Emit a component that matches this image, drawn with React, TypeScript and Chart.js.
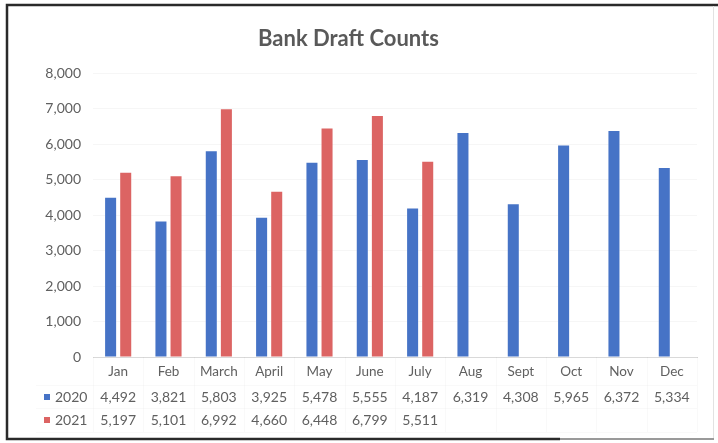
import React, { useEffect, useRef } from "react";
import { Chart, registerables } from "chart.js";

Chart.register(...registerables);

const categories = ["Jan", "Feb", "March", "April", "May", "June", "July", "Aug", "Sept", "Oct", "Nov", "Dec"];
const seriesNames = ["2020", "2021"];
const values2020 = [4492, 3821, 5803, 3925, 5478, 5555, 4187, 6319, 4308, 5965, 6372, 5334];
const values2021 = [5197, 5101, 6992, 4660, 6448, 6799, 5511, null, null, null, null, null];
const seriesColors = ["#4673C6", "#DC6463"];
const titleText = "Bank Draft Counts";

const FONT = "Lato, 'Open Sans', sans-serif";
const TEXT = "#606060";

const fmt = (v: number) => v.toLocaleString("en-US");

const tablePlugin = {
  id: "dataTable",
  afterDraw(chart: any) {
    const ctx = chart.ctx as CanvasRenderingContext2D;
    const xs = chart.scales.x;
    const area = chart.chartArea;
    const rows = [
      { name: seriesNames[0], data: values2020, color: seriesColors[0], y: area.bottom + 40 },
      { name: seriesNames[1], data: values2021, color: seriesColors[1], y: area.bottom + 63 },
    ];
    ctx.save();
    // very faint table lines
    ctx.strokeStyle = "rgba(0,0,0,0.025)";
    ctx.lineWidth = 1;
    const half = (xs.getPixelForValue(1) - xs.getPixelForValue(0)) / 2;
    ctx.beginPath();
    [area.bottom + 28, area.bottom + 51, area.bottom + 75].forEach((yy) => {
      ctx.moveTo(36, Math.round(yy) + 0.5);
      ctx.lineTo(area.right, Math.round(yy) + 0.5);
    });
    for (let i = 0; i <= categories.length; i++) {
      const xx = Math.round(xs.getPixelForValue(0) - half + i * 2 * half) + 0.5;
      ctx.moveTo(xx, area.bottom);
      ctx.lineTo(xx, area.bottom + 75);
    }
    ctx.stroke();

    ctx.font = `14px ${FONT}`;
    ctx.textBaseline = "middle";
    rows.forEach((r) => {
      ctx.fillStyle = r.color;
      ctx.fillRect(44, Math.round(r.y) - 3, 6, 6);
      ctx.fillStyle = TEXT;
      ctx.textAlign = "left";
      ctx.fillText(r.name, 55, r.y);
      ctx.textAlign = "center";
      r.data.forEach((v, i) => {
        if (v === null || v === undefined) return;
        ctx.fillText(fmt(v as number), xs.getPixelForValue(i), r.y);
      });
    });

    // frame
    ctx.lineWidth = 2.5;
    ctx.strokeStyle = "#2a2a2a";
    ctx.beginPath();
    ctx.moveTo(718, 5);
    ctx.lineTo(7, 5);
    ctx.lineTo(7, 439);
    ctx.lineTo(560, 439);
    ctx.stroke();
    ctx.strokeStyle = "#9a9a9a";
    ctx.lineWidth = 2;
    ctx.beginPath();
    ctx.moveTo(560, 439);
    ctx.lineTo(714, 439);
    ctx.stroke();
    ctx.strokeStyle = "#e2e2e2";
    ctx.lineWidth = 1;
    ctx.beginPath();
    ctx.moveTo(713.5, 6);
    ctx.lineTo(713.5, 438);
    ctx.stroke();
    ctx.restore();
  },
};

export default function App() {
  const ref = useRef<HTMLCanvasElement | null>(null);
  useEffect(() => {
    document.body.style.margin = "0";
    document.body.style.background = "#ffffff";
    if (!ref.current) return;
    const chart = new Chart(ref.current, {
      type: "bar",
      data: {
        labels: categories,
        datasets: [
          {
            label: seriesNames[0],
            data: values2020,
            backgroundColor: seriesColors[0],
            categoryPercentage: 0.6,
            barPercentage: 0.73,
          },
          {
            label: seriesNames[1],
            data: values2021,
            backgroundColor: seriesColors[1],
            categoryPercentage: 0.6,
            barPercentage: 0.73,
          },
        ],
      },
      options: {
        responsive: false,
        animation: false,
        layout: { padding: { left: 0, right: 21, top: 0, bottom: 0 } },
        plugins: {
          legend: { display: false },
          tooltip: { enabled: false },
          title: {
            display: true,
            text: titleText,
            color: "#595959",
            font: { family: FONT, size: 22, weight: "bold" },
            padding: { top: 26, bottom: 21 },
          },
        },
        scales: {
          x: {
            grid: { display: false, drawTicks: false },
            border: { display: true, color: "#d9d9d9", width: 1 },
            ticks: { color: TEXT, font: { family: FONT, size: 13.5 }, padding: 7, autoSkip: false, maxRotation: 0 },
            afterFit: (s: any) => {
              s.height = 86;
            },
          },
          y: {
            min: 0,
            max: 8000,
            grid: { color: "rgba(0,0,0,0.035)", drawTicks: false },
            border: { display: false },
            ticks: {
              stepSize: 1000,
              color: TEXT,
              font: { family: FONT, size: 14 },
              padding: 12,
              callback: (v: any) => fmt(Number(v)),
            },
            afterFit: (s: any) => {
              s.width = 93;
            },
          },
        },
      },
      plugins: [tablePlugin],
    });
    return () => chart.destroy();
  }, []);
  return (
    <div style={{ width: 718, height: 443, background: "#fff" }}>
      <canvas ref={ref} width={718} height={443} style={{ display: "block" }} />
    </div>
  );
}
